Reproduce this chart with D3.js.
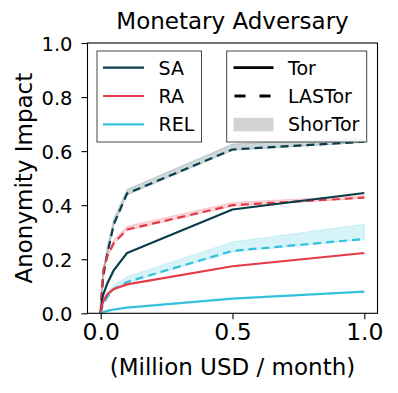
<!DOCTYPE html>
<html><head><meta charset="utf-8">
<script src="https://cdn.jsdelivr.net/npm/d3@7"></script>
<style>body{margin:0;background:#fff}svg{display:block}text{font-family:"DejaVu Sans",sans-serif;fill:#000}</style>
</head><body>
<script>
const budgets = [0, 0.005, 0.01, 0.025, 0.05, 0.1, 0.5, 1.0];
const saTor    = [0, 0.05, 0.07, 0.11, 0.16, 0.223, 0.384, 0.445];
const saLAS    = [0, 0.08, 0.14, 0.22, 0.33, 0.443, 0.606, 0.635];
const saShorLo = [0, 0.076, 0.135, 0.215, 0.325, 0.438, 0.603, 0.632];
const saShorHi = [0, 0.095, 0.16, 0.245, 0.35, 0.458, 0.626, 0.648];
const raTor    = [0, 0.03, 0.045, 0.07, 0.09, 0.107, 0.174, 0.223];
const raLAS    = [0, 0.10, 0.16, 0.21, 0.26, 0.31, 0.40, 0.428];
const raShorLo = [0, 0.096, 0.155, 0.206, 0.256, 0.306, 0.396, 0.425];
const raShorHi = [0, 0.11, 0.172, 0.222, 0.272, 0.322, 0.41, 0.436];
const relTor    = [0, 0.003, 0.005, 0.009, 0.014, 0.021, 0.054, 0.08];
const relLAS    = [0, 0.02, 0.035, 0.06, 0.09, 0.116, 0.231, 0.275];
const relShorLo = [0, 0.018, 0.032, 0.056, 0.086, 0.112, 0.227, 0.272];
const relShorHi = [0, 0.028, 0.047, 0.075, 0.105, 0.135, 0.264, 0.329];
const adversaries = ["SA", "RA", "REL"];
const colors = ["#0b3c49", "#e63946", "#33c1dd"];
const methods = ["Tor", "LASTor", "ShorTor"];
const xTicks = [0, 0.5, 1.0];
const yTicks = [0, 0.2, 0.4, 0.6, 0.8, 1.0];
const title = "Monetary Adversary";
const xLabel = "(Million USD / month)";
const yLabel = "Anonymity Impact";

const series = [
  {tor: saTor, las: saLAS, lo: saShorLo, hi: saShorHi},
  {tor: raTor, las: raLAS, lo: raShorLo, hi: raShorHi},
  {tor: relTor, las: relLAS, lo: relShorLo, hi: relShorHi}
];

const W = 398, H = 393;
const L = 87.5, R = 377.5, T = 43, B = 313.3;
const svg = d3.select("body").append("svg").attr("width", W).attr("height", H);
const x = d3.scaleLinear().domain([-0.05, 1.05]).range([L, R]);
const y = d3.scaleLinear().domain([0, 1]).range([B, T]);

const plot = svg.append("g");
series.forEach((s, i) => {
  const area = d3.area().x((d, k) => x(budgets[k])).y0((d, k) => y(s.lo[k])).y1((d, k) => y(s.hi[k]));
  plot.append("path").datum(budgets).attr("d", area)
    .attr("fill", colors[i]).attr("fill-opacity", 0.2)
    .attr("stroke", colors[i]).attr("stroke-opacity", 0.2).attr("stroke-width", 1);
});
const line = arr => d3.line().x((d, k) => x(budgets[k])).y((d, k) => y(arr[k]))(budgets);
series.forEach((s, i) => {
  plot.append("path").attr("d", line(s.las)).attr("fill", "none")
    .attr("stroke", colors[i]).attr("stroke-width", 2.2).attr("stroke-dasharray", "8,5")
    .attr("stroke-linejoin", "round");
});
series.forEach((s, i) => {
  plot.append("path").attr("d", line(s.tor)).attr("fill", "none")
    .attr("stroke", colors[i]).attr("stroke-width", 2.2).attr("stroke-linejoin", "round");
});

const xAxis = svg.append("g").attr("transform", `translate(0,${B})`)
  .call(d3.axisBottom(x).tickValues(xTicks).tickFormat(d3.format(".1f")).tickSize(6).tickPadding(4));
xAxis.selectAll("text").attr("font-size", 23.5).style("font-family", "DejaVu Sans");
const yAxis = svg.append("g").attr("transform", `translate(${L},0)`)
  .call(d3.axisLeft(y).tickValues(yTicks).tickFormat(d3.format(".1f")).tickSize(6).tickPadding(9));
yAxis.selectAll("text").attr("font-size", 19.5).attr("dy", "0.36em").style("font-family", "DejaVu Sans");
[xAxis, yAxis].forEach(a => { a.select(".domain").remove(); a.selectAll("line").attr("stroke", "#000").attr("stroke-width", 1.1); });

svg.append("rect").attr("x", L).attr("y", T).attr("width", R - L).attr("height", B - T)
  .attr("fill", "none").attr("stroke", "#000").attr("stroke-width", 1.1);

svg.append("text").attr("x", (L + R) / 2).attr("y", 29).attr("text-anchor", "middle").attr("font-size", 23).text(title);
svg.append("text").attr("x", (L + R) / 2).attr("y", 375).attr("text-anchor", "middle").attr("font-size", 23).text(xLabel);
svg.append("text").attr("transform", `translate(32,${(T + B) / 2}) rotate(-90)`).attr("text-anchor", "middle").attr("font-size", 23).text(yLabel);

const lg1 = svg.append("g");
lg1.append("rect").attr("x", 97).attr("y", 51).attr("width", 104.5).attr("height", 91)
  .attr("fill", "#fff").attr("fill-opacity", 0.85).attr("stroke", "#444").attr("stroke-width", 1);
adversaries.forEach((a, i) => {
  const yy = 67.7 + i * 28.3;
  lg1.append("line").attr("x1", 103).attr("x2", 144).attr("y1", yy).attr("y2", yy)
    .attr("stroke", colors[i]).attr("stroke-width", 2.2);
  lg1.append("text").attr("x", 158.5).attr("y", yy + 7).attr("font-size", 19).text(a);
});
const lg2 = svg.append("g");
lg2.append("rect").attr("x", 226.7).attr("y", 51).attr("width", 140).attr("height", 91)
  .attr("fill", "#fff").attr("fill-opacity", 0.85).attr("stroke", "#444").attr("stroke-width", 1);
methods.forEach((m, i) => {
  const yy = 67.7 + i * 28.3;
  if (i === 0) lg2.append("line").attr("x1", 233.5).attr("x2", 273.5).attr("y1", yy).attr("y2", yy).attr("stroke", "#000").attr("stroke-width", 2.8);
  if (i === 1) lg2.append("line").attr("x1", 234.5).attr("x2", 273.5).attr("y1", yy).attr("y2", yy).attr("stroke", "#000").attr("stroke-width", 2.8).attr("stroke-dasharray", "11,14");
  if (i === 2) lg2.append("rect").attr("x", 233.5).attr("y", yy - 6.5).attr("width", 40).attr("height", 13.5).attr("fill", "#d3d3d3");
  lg2.append("text").attr("x", 288).attr("y", yy + 7).attr("font-size", 19).text(m);
});
</script>
</body></html>
